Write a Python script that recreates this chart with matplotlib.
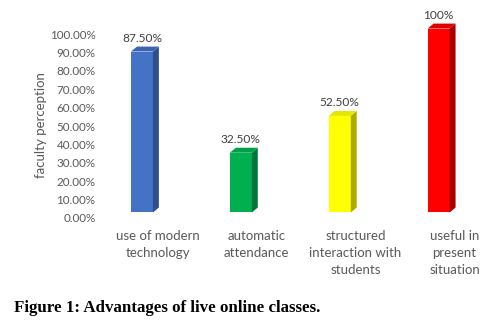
import matplotlib
matplotlib.use("Agg")
import matplotlib.pyplot as plt
from matplotlib.patches import Polygon

categories = ["use of modern\ntechnology", "automatic\nattendance",
              "structured\ninteraction with\nstudents", "useful in\npresent\nsituation"]
values = [0.875, 0.325, 0.525, 1.00]
value_labels = ["87.50%", "32.50%", "52.50%", "100%"]
front_colors = ["#4472C4", "#00B050", "#FFFF00", "#FF0000"]
top_colors = ["#3C64B0", "#00A046", "#E6E600", "#E00000"]
side_colors = ["#2F4F8C", "#00773A", "#ABAB00", "#A80000"]

plt.rcParams['font.family'] = ['Lato', 'DejaVu Sans']
gray = "#595959"

fig = plt.figure(figsize=(5.01, 3.27), dpi=100)
ax = fig.add_axes([102.4 / 501, 109 / 327, 395.6 / 501, 206 / 327])

w = 0.222      # bar width
dx, dy = 0.06, 0.027  # 3d depth
base = 0.03

for i, v in enumerate(values):
    x0, x1 = i - w / 2, i + w / 2
    top = base + v
    ax.add_patch(Polygon([(x0, base), (x1, base), (x1, top), (x0, top)],
                         closed=True, facecolor=front_colors[i], edgecolor='none'))
    ax.add_patch(Polygon([(x1, base), (x1 + dx, base + dy), (x1 + dx, top + dy), (x1, top)],
                         closed=True, facecolor=side_colors[i], edgecolor='none'))
    ax.add_patch(Polygon([(x0, top), (x0 + dx, top + dy), (x1 + dx, top + dy), (x1, top)],
                         closed=True, facecolor=top_colors[i], edgecolor='none'))
    ax.annotate(value_labels[i], (i, top + dy), xytext=(0, 2), textcoords='offset points',
                ha='center', va='bottom', fontsize=8.6, color="#404040")

ax.set_xlim(-0.4, 3.6)
ax.set_ylim(0, 1.12)
ax.set_yticks([k / 10 for k in range(11)])
ax.set_yticklabels(["%.2f%%" % (k * 10) for k in range(11)])
ax.set_xticks([i + 0.16 for i in range(len(categories))])
ax.set_xticklabels(categories, linespacing=1.45)
ax.tick_params(axis='both', length=0, labelcolor=gray, labelsize=8.4)
ax.tick_params(axis='x', pad=9, labelsize=9.5)
ax.tick_params(axis='y', pad=5)
for s in ax.spines.values():
    s.set_visible(False)

ax.set_ylabel("faculty perception", color=gray, fontsize=9.5)
ax.yaxis.set_label_coords(-0.14, 0.451)

fig.text(14 / 501, 1 - 308 / 327, "Figure 1: Advantages of live online classes.",
         family="Liberation Serif", fontweight="bold", fontsize=12.2, va='center', ha='left')

fig.savefig("out.png", dpi=100)
